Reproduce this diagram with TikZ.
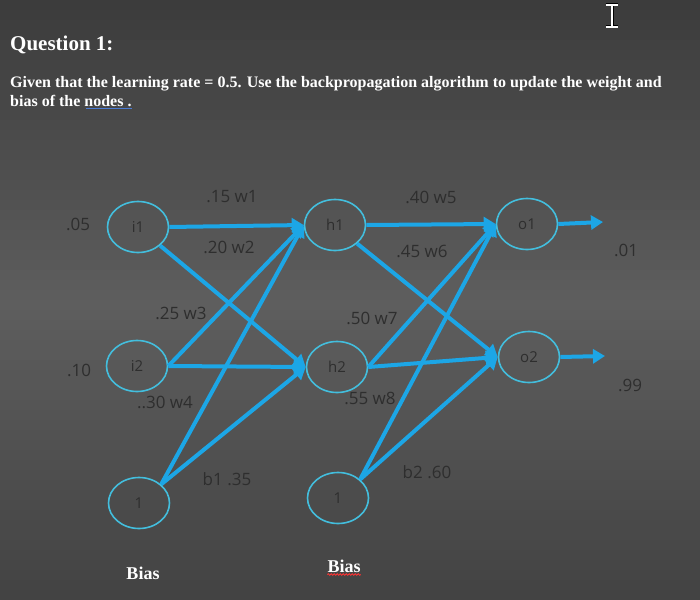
\documentclass[tikz,border=0pt]{standalone}
\usepackage{fontspec}
\setmainfont{Liberation Serif}
\newfontfamily\netfont{Open Sans}
\usetikzlibrary{arrows.meta,shapes.geometric,decorations.pathmorphing}
\definecolor{screentop}{HTML}{3C3C3C}
\definecolor{screenmid}{HTML}{5E5E5E}
\definecolor{screenbot}{HTML}{424242}
\definecolor{wire}{HTML}{1CA6E6}
\definecolor{ring}{HTML}{43BEDD}
\definecolor{ink}{HTML}{2E2E2E}
\definecolor{spell}{HTML}{4A7BD4}
\tikzset{
  unit/.style={ellipse,draw=ring,line width=1.6pt,minimum width=61pt,minimum height=51pt,
    inner sep=0pt,text=ink,font=\netfont\fontsize{15}{15}\selectfont},
  wgt/.style={text=ink,inner sep=0pt,font=\netfont\fontsize{17}{17}\selectfont},
  link/.style={wire,line width=4pt,-{Triangle[width=14pt,length=12pt]}},
  qtext/.style={white,anchor=west,inner sep=0pt,font=\bfseries\fontsize{16}{16}\selectfont},
}
\begin{document}
\begin{tikzpicture}[x=1pt,y=-1pt]
\useasboundingbox (0,0) rectangle (700,599);
% screen background, banded
\foreach \k in {0,...,59}{
  \pgfmathtruncatemacro\pa{min(100,\k*10/3)}
  \pgfmathtruncatemacro\pb{max(0,(\k-30)*10/3)}
  \ifnum\k<30 \colorlet{band}{screenmid!\pa!screentop}\else\colorlet{band}{screenbot!\pb!screenmid}\fi
  \fill[band] (0,\k*10) rectangle (700,\k*10+10.5);
}

% question
\node[qtext,font=\bfseries\fontsize{21}{21}\selectfont] (q1) at (10,45) {Question 1:};
\node[qtext] (q2) at (10,84) {Given that the learning rate = 0.5. Use the backpropagation algorithm to update the weight and};
\node[qtext] (q3) at (10,101) {bias of the nodes .};
\draw[spell,line width=1pt] ([xshift=-46pt,yshift=-2pt]q3.south east) -- ([yshift=-2pt]q3.south east);

% cursor
\draw[black,line width=3pt] (606,5) -- (618,5) (612,5) -- (612,27) (606,27) -- (618,27);
\draw[white,line width=1.4pt] (606,5) -- (618,5) (612,5) -- (612,27) (606,27) -- (618,27);

% nodes
\node[unit] (i1) at (138,227) {i1};
\node[unit] (i2) at (137,366) {i2};
\node[unit] (b1) at (139,503) {1};
\node[unit] (h1) at (335,225) {h1};
\node[unit] (h2) at (337,367) {h2};
\node[unit] (b2) at (338,498) {1};
\node[unit] (o1) at (527,224) {o1};
\node[unit] (o2) at (529,357) {o2};
\coordinate (y1) at (603,222);
\coordinate (y2) at (605,356);

% links
\draw[link] (i1.east) -- (h1.west);
\draw[link] (i1.south east) -- (h2.west);
\draw[link] (i2.east) -- (h1.west);
\draw[link] (i2.east) -- (h2.west);
\draw[link] (b1.north east) -- (h1.west);
\draw[link] (b1.north east) -- (h2.west);
\draw[link] (h1.east) -- (o1.west);
\draw[link] (h1.south east) -- (o2.west);
\draw[link] (h2.east) -- (o1.west);
\draw[link] (h2.east) -- (o2.west);
\draw[link] (b2.north east) -- (o1.west);
\draw[link] (b2.north east) -- (o2.west);
\draw[link] (o1.east) -- (y1);
\draw[link] (o2.east) -- (y2);

% labels
\node[wgt] (w1) at (232,197) {.15 w1};
\node[wgt] (w2) at (229,247) {.20 w2};
\node[wgt] (w3) at (181,313) {.25 w3};
\node[wgt] (w4) at (165,402) {..30 w4};
\node[wgt] (c1) at (227,479) {b1 .35};
\node[wgt] (w5) at (431,197) {.40 w5};
\node[wgt] (w6) at (422,251) {.45 w6};
\node[wgt] (w7) at (372,318) {.50 w7};
\node[wgt] (w8) at (370,398) {.55 w8};
\node[wgt] (c2) at (427,472) {b2 .60};
\node[wgt] (x1) at (78,224) {.05};
\node[wgt] (x2) at (79,370) {.10};
\node[wgt] (t1) at (626,250) {.01};
\node[wgt] (t2) at (630,385) {.99};

% bias captions
\node[white,inner sep=0pt,font=\bfseries\fontsize{18}{18}\selectfont] (bias1) at (143,573) {Bias};
\node[white,inner sep=0pt,font=\bfseries\fontsize{18}{18}\selectfont] (bias2) at (344,566) {Bias};
\draw[red!80!white,line width=0.8pt,decorate,decoration={snake,amplitude=0.8pt,segment length=3pt}] ([yshift=-2pt]bias2.south west) -- ([yshift=-2pt]bias2.south east);

\end{tikzpicture}
\end{document}
